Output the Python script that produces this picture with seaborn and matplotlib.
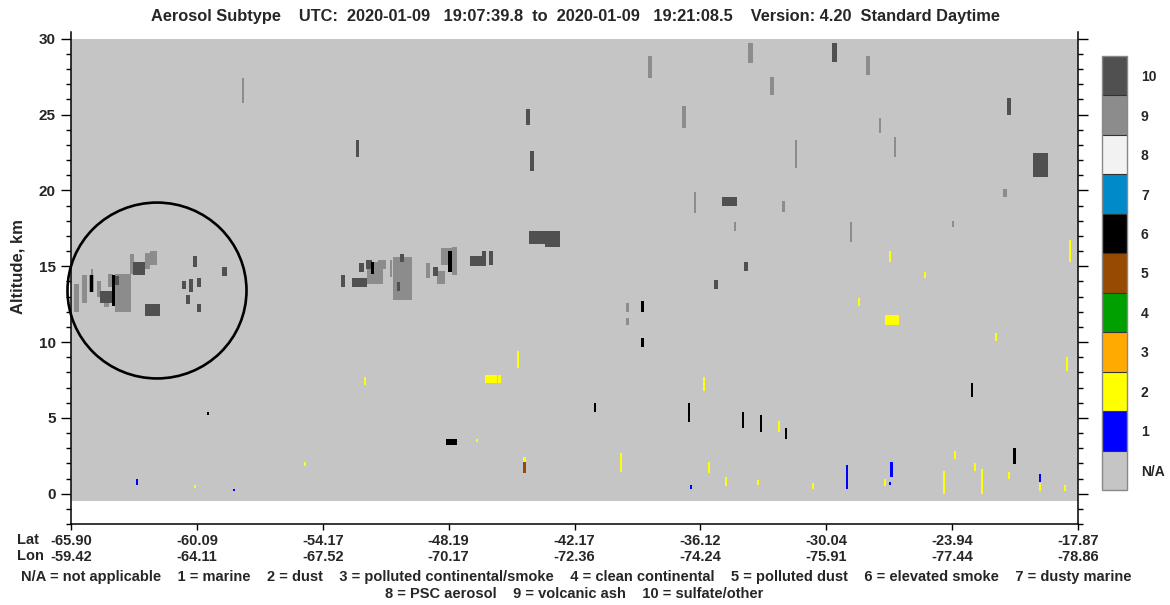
import numpy as np
import pandas as pd
import matplotlib
matplotlib.use("Agg")
import matplotlib.pyplot as plt
from matplotlib.colors import ListedColormap
from matplotlib.patches import Ellipse
import seaborn as sns

# ---- curtain geometry -------------------------------------------------
N_PROFILES = 1007          # along-track 5 km profiles
ALT_TOP = 30.0             # km
ALT_BOTTOM = -0.5          # km
DZ = 0.05                  # km per range bin

# ---- along-track labels ----------------------------------------------
lat_labels = ["-65.90", "-60.09", "-54.17", "-48.19", "-42.17",
              "-36.12", "-30.04", "-23.94", "-17.87"]
lon_labels = ["-59.42", "-64.11", "-67.52", "-70.17", "-72.36",
              "-74.24", "-75.91", "-77.44", "-78.86"]

# ---- subtype colour table ---------------------------------------------
subtype_labels = ["N/A", "1", "2", "3", "4", "5", "6", "7", "8", "9", "10"]
subtype_colors = ["#c5c5c5", "#0000ff", "#ffff00", "#ffaa00", "#00a000",
                  "#964b00", "#000000", "#008aca", "#f2f2f2", "#8c8c8c",
                  "#505050"]

# ---- detected layers: (first profile, end profile, base km, top km) ---
volcanic_ash = [
    (3, 8, 11.96, 13.87), (11, 16, 12.60, 14.46), (18, 23, 13.30, 14.40),
    (20, 22, 14.30, 14.80), (26, 30, 13.00, 14.00), (33, 38, 12.30, 13.00),
    (37, 42, 13.60, 14.50), (44, 60, 12.00, 14.50), (59, 63, 14.50, 15.80),
    (74, 79, 14.80, 15.90), (79, 86, 15.10, 16.00),
    (296, 312, 13.80, 15.30), (307, 315, 14.80, 15.40), (319, 321, 14.30, 15.40),
    (322, 341, 12.80, 15.60), (355, 359, 14.25, 15.20), (366, 374, 13.85, 14.70),
    (370, 381, 15.05, 16.20), (381, 386, 14.40, 16.30),
    (171, 173, 25.80, 27.40), (577, 581, 27.40, 28.90), (611, 615, 24.10, 25.60),
    (623, 625, 18.50, 19.90), (663, 665, 17.30, 17.90), (677, 682, 28.40, 29.70),
    (699, 703, 26.30, 27.50), (711, 714, 18.60, 19.30), (724, 726, 21.50, 23.30),
    (795, 799, 27.60, 28.90), (808, 810, 23.80, 24.80), (823, 825, 22.20, 23.50),
    (779, 781, 16.60, 17.90), (881, 883, 17.60, 18.00), (932, 936, 19.60, 20.10),
    (555, 558, 11.10, 11.60), (555, 558, 11.95, 12.60),
]
sulfate_other = [
    (29, 41, 12.55, 13.41), (41, 48, 13.74, 14.33), (62, 74, 14.46, 15.32),
    (74, 89, 11.76, 12.49), (122, 126, 14.93, 15.65), (111, 115, 13.48, 14.00),
    (118, 122, 13.28, 14.13), (126, 130, 13.67, 14.27), (115, 119, 12.49, 13.08),
    (126, 130, 11.96, 12.49), (151, 156, 14.33, 14.93),
    (270, 274, 13.67, 14.46), (281, 296, 13.61, 14.27), (288, 293, 14.60, 15.19),
    (295, 301, 14.86, 15.39), (329, 333, 15.26, 15.78), (326, 329, 13.41, 13.94),
    (362, 367, 14.33, 14.93), (399, 415, 14.99, 15.65), (411, 415, 15.58, 15.98),
    (418, 422, 15.06, 15.98), (458, 489, 16.50, 17.36), (474, 489, 16.31, 16.50),
    (285, 288, 22.20, 23.30), (455, 459, 24.30, 25.40), (459, 463, 21.30, 22.60),
    (651, 666, 19.00, 19.60), (673, 677, 14.70, 15.30), (643, 647, 13.50, 14.10),
    (761, 766, 28.50, 29.70), (936, 940, 25.00, 26.10), (962, 977, 20.90, 22.50),
]
elevated_smoke = [
    (19, 22, 13.30, 14.40), (41, 44, 12.35, 14.40), (300, 303, 14.50, 15.30),
    (377, 381, 14.65, 16.00), (136, 138, 5.20, 5.40), (375, 386, 3.20, 3.60),
    (523, 525, 5.40, 6.00), (570, 573, 11.95, 12.70), (570, 573, 9.70, 10.30),
    (617, 619, 4.70, 6.00), (671, 673, 4.30, 5.40), (689, 691, 4.05, 5.20),
    (714, 716, 3.60, 4.30), (900, 902, 6.40, 7.30), (942, 945, 1.95, 3.00),
]
polluted_dust = [
    (452, 455, 1.35, 2.10),
]
dust = [
    (123, 125, 0.40, 0.60), (233, 235, 1.80, 2.10), (293, 295, 7.20, 7.70),
    (414, 426, 7.30, 7.80), (427, 430, 7.30, 7.80), (405, 407, 3.40, 3.60),
    (446, 448, 8.30, 9.40), (452, 455, 2.10, 2.40), (549, 551, 1.40, 2.70),
    (632, 634, 6.75, 7.70), (637, 639, 1.35, 2.10), (654, 656, 0.50, 1.10),
    (686, 688, 0.60, 0.90), (707, 709, 4.10, 4.80), (741, 743, 0.30, 0.70),
    (813, 815, 0.50, 1.00), (787, 789, 12.40, 12.90), (814, 828, 11.10, 11.80),
    (818, 820, 15.25, 16.00), (853, 855, 14.20, 14.60), (872, 874, 0.00, 1.50),
    (883, 885, 2.30, 2.80), (903, 905, 1.50, 2.00), (910, 912, 0.00, 1.60),
    (924, 926, 10.10, 10.60), (937, 939, 1.00, 1.40), (968, 970, 0.20, 0.70),
    (993, 995, 0.20, 0.60), (995, 997, 8.10, 9.00), (998, 1000, 15.30, 16.70),
]
marine = [
    (65, 67, 0.60, 1.00), (162, 164, 0.20, 0.30), (619, 621, 0.30, 0.55),
    (775, 777, 0.30, 1.90), (819, 822, 1.10, 2.10), (818, 820, 0.55, 0.75),
    (968, 970, 0.80, 1.30),
]

# ---- rasterise the layers into the curtain ----------------------------
n_rows = int(round((ALT_TOP - ALT_BOTTOM) / DZ))
bin_alt = ALT_TOP - (np.arange(n_rows) + 0.5) * DZ
curtain = np.zeros((n_rows, N_PROFILES))
for code, layers in [(9, volcanic_ash), (10, sulfate_other), (6, elevated_smoke),
                     (5, polluted_dust), (2, dust), (1, marine)]:
    for x0, x1, base, top in layers:
        rows = (bin_alt >= base) & (bin_alt < top)
        curtain[rows, x0:x1] = code
curtain_df = pd.DataFrame(curtain, index=bin_alt)


def alt_to_y(a):
    return (ALT_TOP - np.asarray(a, dtype=float)) / DZ


# ---- figure -------------------------------------------------------------
sns.set_style("white")
plt.rcParams["font.family"] = ["Liberation Sans", "DejaVu Sans"]
plt.rcParams["font.weight"] = "bold"

W, H = 1170, 605
fig = plt.figure(figsize=(W / 100, H / 100), dpi=100)
ax = fig.add_axes([71 / W, 81 / H, 1007 / W, 492 / H])
cax = fig.add_axes([1102 / W, 115 / H, 25 / W, 434 / H])

cmap = ListedColormap(subtype_colors)
sns.heatmap(curtain_df, ax=ax, cbar_ax=cax, cmap=cmap, vmin=-0.5, vmax=10.5,
            xticklabels=False, yticklabels=False,
            cbar_kws={"ticks": list(range(11)), "drawedges": True})

ax.set_xlim(0, N_PROFILES)
ax.set_ylim(alt_to_y(-1.95), alt_to_y(30.45))
ax.set_facecolor("white")
for side in ["left", "right", "bottom"]:
    ax.spines[side].set_visible(True)
    ax.spines[side].set_color("black")
    ax.spines[side].set_linewidth(1.1)
ax.spines["top"].set_visible(False)

# altitude ticks
ax.set_yticks(alt_to_y(np.arange(0, 31, 5)))
ax.set_yticklabels([str(v) for v in range(0, 31, 5)], fontsize=11, fontweight="bold")
ax.set_yticks(alt_to_y(np.arange(-2, 31, 1)), minor=True)
ax.tick_params(axis="y", which="both", left=True, right=True, labelleft=True,
               labelright=False, direction="out", color="black", width=1.0, pad=4)
ax.tick_params(axis="y", which="major", length=7)
ax.tick_params(axis="y", which="minor", length=3.5)

# along-track ticks
ax.set_xticks(np.linspace(0, N_PROFILES, len(lat_labels)))
ax.set_xticklabels([f"{la}\n{lo}" for la, lo in zip(lat_labels, lon_labels)],
                   fontsize=10.5, fontweight="bold", linespacing=1.15)
ax.tick_params(axis="x", which="major", bottom=True, direction="out", length=4.5,
               width=1.0, color="black", pad=3)
ax.set_xlabel("")
ax.set_ylabel("")

# region of interest
ax.add_patch(Ellipse((86, alt_to_y(13.4)), width=179, height=11.6 / DZ,
                     fill=False, edgecolor="black", linewidth=1.9, clip_on=False))

# colour bar
cbar = ax.collections[0].colorbar
cbar.set_ticklabels(subtype_labels)
cbar.ax.tick_params(length=0, labelsize=10, pad=10)
for lab in cbar.ax.get_yticklabels():
    lab.set_fontweight("bold")
cbar.outline.set_edgecolor("#888888")
cbar.outline.set_linewidth(1.0)
cbar.dividers.set_color("#333333")
cbar.dividers.set_linewidth(0.8)

# text
fig.text(575 / W, 1 - 17 / H,
         "Aerosol Subtype    UTC:  2020-01-09   19:07:39.8  to  2020-01-09   "
         "19:21:08.5    Version: 4.20  Standard Daytime",
         ha="center", va="center", fontsize=11.75, fontweight="bold")
fig.text(18 / W, 1 - 267 / H, "Altitude, km", rotation=90, ha="center",
         va="center", fontsize=12, fontweight="bold")
fig.text(17 / W, 1 - 533 / H, "Lat\nLon", ha="left", va="top", fontsize=10.5,
         fontweight="bold", linespacing=1.15)
fig.text(576 / W, 1 - 577 / H,
         "N/A = not applicable    1 = marine    2 = dust    3 = polluted continental/smoke"
         "    4 = clean continental    5 = polluted dust    6 = elevated smoke    7 = dusty marine",
         ha="center", va="center", fontsize=10.55, fontweight="bold")
fig.text(574 / W, 1 - 594 / H,
         "8 = PSC aerosol    9 = volcanic ash    10 = sulfate/other",
         ha="center", va="center", fontsize=10.5, fontweight="bold")

fig.savefig("out.png", dpi=100)
